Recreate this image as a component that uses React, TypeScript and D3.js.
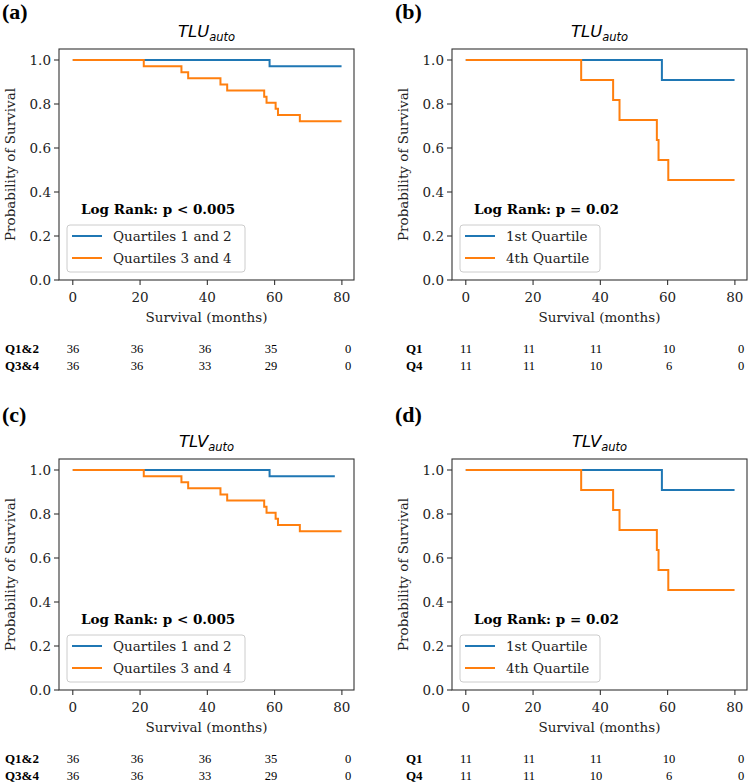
import React from "react";
import * as d3 from "d3";

// ---------- data ----------
const xTicks = [0, 20, 40, 60, 80];
const yTicks = [0, 0.2, 0.4, 0.6, 0.8, 1.0];

// Panel (a) TLU, quartiles 1&2 vs 3&4
const aBlueT = [0, 58.5, 79.9];
const aBlueS = [1, 0.972, 0.972];
const aOrangeT = [0, 21.1, 32.3, 34.3, 43.9, 45.9, 56.9, 57.6, 60.3, 61.0, 67.5, 79.9];
const aOrangeS = [1, 0.972, 0.944, 0.917, 0.889, 0.861, 0.833, 0.806, 0.778, 0.75, 0.722, 0.722];

// Panel (b) TLU, 1st vs 4th quartile
const bBlueT = [0, 58.3, 79.9];
const bBlueS = [1, 0.909, 0.909];
const bOrangeT = [0, 34.3, 43.8, 45.7, 56.8, 57.3, 60.2, 79.9];
const bOrangeS = [1, 0.909, 0.818, 0.727, 0.636, 0.545, 0.455, 0.455];

// Panel (c) TLV, quartiles 1&2 vs 3&4
const cBlueT = [0, 58.5, 77.9];
const cBlueS = [1, 0.972, 0.972];
const cOrangeT = [0, 21.1, 32.3, 34.3, 43.9, 45.9, 56.9, 57.6, 60.3, 61.0, 67.5, 79.9];
const cOrangeS = [1, 0.972, 0.944, 0.917, 0.889, 0.861, 0.833, 0.806, 0.778, 0.75, 0.722, 0.722];

// Panel (d) TLV, 1st vs 4th quartile
const dBlueT = [0, 58.3, 79.9];
const dBlueS = [1, 0.909, 0.909];
const dOrangeT = [0, 34.3, 43.8, 45.7, 56.8, 57.3, 60.2, 79.9];
const dOrangeS = [1, 0.909, 0.818, 0.727, 0.636, 0.545, 0.455, 0.455];

const legendHalves = ["Quartiles 1 and 2", "Quartiles 3 and 4"];
const legendQuart = ["1st Quartile", "4th Quartile"];
const rowLabelsHalves = ["Q1&2", "Q3&4"];
const rowLabelsQuart = ["Q1", "Q4"];
const riskHalvesTop = [36, 36, 36, 35, 0];
const riskHalvesBottom = [36, 36, 33, 29, 0];
const riskQuartTop = [11, 11, 11, 10, 0];
const riskQuartBottom = [11, 11, 10, 6, 0];

const BLUE = "#1f77b4";
const ORANGE = "#ff7f0e";
const SERIF = "'DejaVu Serif', serif";
const TIMES = "'Liberation Serif', 'Times New Roman', serif";
const SANS = "'DejaVu Sans', sans-serif";

type PanelProps = {
  ox: number;
  oy: number;
  letter: string;
  titleMain: string;
  blueT: number[];
  blueS: number[];
  orangeT: number[];
  orangeS: number[];
  legend: string[];
  logRank: string;
  rowLabels: string[];
  rowLabelX: number;
  riskTop: number[];
  riskBottom: number[];
  colOffsets: number[];
};

function Panel(p: PanelProps) {
  const left = p.ox;
  const right = p.ox + 295;
  const top = p.oy + 49;
  const bottom = p.oy + 280;
  const x = d3.scaleLinear().domain([-4.1, 83.6]).range([left, right]);
  const y = d3.scaleLinear().domain([0, 1.05]).range([bottom, top]);
  const line = d3
    .line<[number, number]>()
    .x((d) => x(d[0]))
    .y((d) => y(d[1]))
    .curve(d3.curveStepAfter);
  const blue = d3.zip(p.blueT, p.blueS) as [number, number][];
  const orange = d3.zip(p.orangeT, p.orangeS) as [number, number][];
  const cx = (left + right) / 2;
  const cy = (top + bottom) / 2;
  const legX = left + 8;
  const legY = p.oy + 225;
  const legW = p.legend[0].length > 14 ? 178 : 140;
  return (
    <g>
      <text
        x={p.ox - 57}
        y={p.oy + (p.oy === 0 ? 19 : 12)}
        fontFamily={TIMES}
        fontWeight="bold"
        fontSize={22}
        fill="#000"
      >
        {p.letter}
      </text>
      <text x={cx} y={p.oy + 37} textAnchor="middle" fontFamily={SANS} fontStyle="italic" fontSize={16.5} fill="#000">
        {p.titleMain}
        <tspan fontSize={11.5} dy={3.5}>auto</tspan>
      </text>
      {/* curves */}
      <path d={line(blue) || ""} fill="none" stroke={BLUE} strokeWidth={2} />
      <path d={line(orange) || ""} fill="none" stroke={ORANGE} strokeWidth={2} />
      {/* frame */}
      <rect x={left} y={top} width={right - left} height={bottom - top} fill="none" stroke="#333" strokeWidth={1.1} />
      {/* y ticks */}
      {yTicks.map((t) => (
        <g key={"y" + t}>
          <line x1={left - 5} x2={left} y1={y(t)} y2={y(t)} stroke="#333" strokeWidth={1.1} />
          <text x={left - 8} y={y(t)} dy="0.35em" textAnchor="end" fontFamily={SERIF} fontSize={13.5} fill="#222">
            {t.toFixed(1)}
          </text>
        </g>
      ))}
      {/* x ticks */}
      {xTicks.map((t) => (
        <g key={"x" + t}>
          <line x1={x(t)} x2={x(t)} y1={bottom} y2={bottom + 5} stroke="#333" strokeWidth={1.1} />
          <text x={x(t)} y={bottom + 22} textAnchor="middle" fontFamily={SERIF} fontSize={13.5} fill="#222">
            {t}
          </text>
        </g>
      ))}
      <text x={cx} y={p.oy + 322} textAnchor="middle" fontFamily={SERIF} fontSize={13.5} fill="#222">
        Survival (months)
      </text>
      <text
        transform={`translate(${p.ox - 44},${cy}) rotate(-90)`}
        textAnchor="middle"
        fontFamily={SERIF}
        fontSize={13.5}
        fill="#222"
      >
        Probability of Survival
      </text>
      {/* log rank */}
      <text x={left + 22} y={p.oy + 214} fontFamily={SERIF} fontWeight="bold" fontSize={13.5} fill="#000">
        {p.logRank}
      </text>
      {/* legend */}
      <rect x={legX} y={legY} width={legW} height={47} rx={3} fill="#fff" fillOpacity={0.8} stroke="#ccc" strokeWidth={1} />
      {p.legend.map((lab, i) => (
        <g key={lab}>
          <line
            x1={legX + 5}
            x2={legX + 35}
            y1={legY + 11 + i * 22}
            y2={legY + 11 + i * 22}
            stroke={i === 0 ? BLUE : ORANGE}
            strokeWidth={2}
          />
          <text x={legX + 46} y={legY + 11 + i * 22} dy="0.35em" fontFamily={SERIF} fontSize={13.5} fill="#222">
            {lab}
          </text>
        </g>
      ))}
      {/* at-risk table */}
      {[p.riskTop, p.riskBottom].map((row, r) => (
        <g key={"r" + r}>
          <text x={p.rowLabelX} y={p.oy + 353 + r * 17} fontFamily={TIMES} fontWeight="bold" fontSize={13} fill="#000">
            {p.rowLabels[r]}
          </text>
          {row.map((v, i) => (
            <text
              key={i}
              x={left + p.colOffsets[i]}
              y={p.oy + 353 + r * 17}
              textAnchor="middle"
              fontFamily={TIMES}
              fontSize={12.5}
              fill="#000"
            >
              {v}
            </text>
          ))}
        </g>
      ))}
    </g>
  );
}

export default function App() {
  const colsA = [14, 78, 146, 212, 289];
  const colsB = [14, 77, 144, 217, 289];
  return (
    <svg width={752} height={784} style={{ position: "absolute", left: 0, top: 0, background: "#fff" }}>
      <rect width={752} height={784} fill="#fff" />
      <Panel
        ox={59} oy={0} letter="(a)" titleMain="TLU"
        blueT={aBlueT} blueS={aBlueS} orangeT={aOrangeT} orangeS={aOrangeS}
        legend={legendHalves} logRank="Log Rank: p < 0.005"
        rowLabels={rowLabelsHalves} rowLabelX={5}
        riskTop={riskHalvesTop} riskBottom={riskHalvesBottom} colOffsets={colsA}
      />
      <Panel
        ox={452} oy={0} letter="(b)" titleMain="TLU"
        blueT={bBlueT} blueS={bBlueS} orangeT={bOrangeT} orangeS={bOrangeS}
        legend={legendQuart} logRank="Log Rank: p = 0.02"
        rowLabels={rowLabelsQuart} rowLabelX={406}
        riskTop={riskQuartTop} riskBottom={riskQuartBottom} colOffsets={colsB}
      />
      <Panel
        ox={59} oy={410} letter="(c)" titleMain="TLV"
        blueT={cBlueT} blueS={cBlueS} orangeT={cOrangeT} orangeS={cOrangeS}
        legend={legendHalves} logRank="Log Rank: p < 0.005"
        rowLabels={rowLabelsHalves} rowLabelX={5}
        riskTop={riskHalvesTop} riskBottom={riskHalvesBottom} colOffsets={colsA}
      />
      <Panel
        ox={452} oy={410} letter="(d)" titleMain="TLV"
        blueT={dBlueT} blueS={dBlueS} orangeT={dOrangeT} orangeS={dOrangeS}
        legend={legendQuart} logRank="Log Rank: p = 0.02"
        rowLabels={rowLabelsQuart} rowLabelX={406}
        riskTop={riskQuartTop} riskBottom={riskQuartBottom} colOffsets={colsB}
      />
    </svg>
  );
}
